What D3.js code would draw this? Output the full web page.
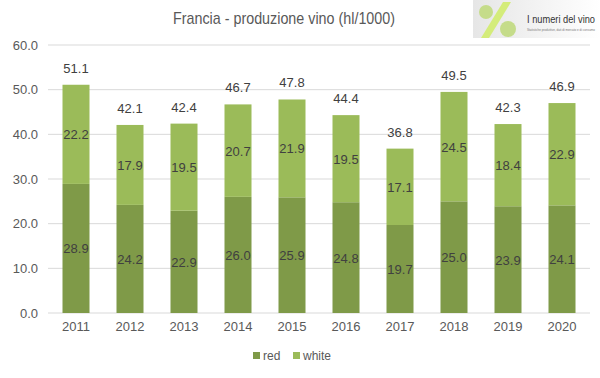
<!DOCTYPE html>
<html>
<head>
<meta charset="utf-8">
<script src="https://cdn.jsdelivr.net/npm/d3@7"></script>
<style>
body{margin:0;background:#fff;}
svg{display:block;font-family:"Liberation Sans",Arial,sans-serif;}
</style>
</head>
<body>
<div id="chart"></div>
<script>
'use strict'
var years = ["2011","2012","2013","2014","2015","2016","2017","2018","2019","2020"];
var red = [28.9,24.2,22.9,26.0,25.9,24.8,19.7,25.0,23.9,24.1];
var white = [22.2,17.9,19.5,20.7,21.9,19.5,17.1,24.5,18.4,22.9];
var totals = [51.1,42.1,42.4,46.7,47.8,44.4,36.8,49.5,42.3,46.9];
var yTicks = [0,10,20,30,40,50,60];

var W = 600, H = 378;
var colors = {red:"#7f9a48", white:"#9bbb59"};
var svg = d3.select("#chart").append("svg").attr("width", W).attr("height", H);

var x = d3.scaleBand().domain(years).range([49, 589]).paddingInner(0.5).paddingOuter(0.25);
var y = d3.scaleLinear().domain([0, 60]).range([313, 45]);

// gridlines
svg.append("g").selectAll("line").data(yTicks).enter().append("line")
	.attr("x1", 48).attr("x2", 590)
	.attr("y1", function(d){return y(d);}).attr("y2", function(d){return y(d);})
	.style("stroke", "#d9d9d9").style("stroke-width", 1);

var yAxis = svg.append("g").attr("transform", "translate(48,0)")
	.call(d3.axisLeft(y).tickValues(yTicks).tickSize(0).tickPadding(10).tickFormat(d3.format(".1f")));
yAxis.select(".domain").remove();
yAxis.selectAll("text").style("font-size", "13px").style("fill", "#595959");

var xAxis = svg.append("g").attr("transform", "translate(0,313)")
	.call(d3.axisBottom(x).tickSize(0).tickPadding(9));
xAxis.select(".domain").remove();
xAxis.selectAll("text").style("font-size", "13px").style("fill", "#595959");

// stacked bars
var stack = years.map(function(yr, i){ return {year: yr, red: red[i], white: white[i], total: totals[i]}; });
var g = svg.append("g");
g.selectAll("rect.red").data(stack).enter().append("rect").attr("class", "red")
	.attr("x", function(d){return x(d.year);}).attr("width", x.bandwidth())
	.attr("y", function(d){return y(d.red);})
	.attr("height", function(d){return y(0) - y(d.red);})
	.style("fill", colors.red);
g.selectAll("rect.white").data(stack).enter().append("rect").attr("class", "white")
	.attr("x", function(d){return x(d.year);}).attr("width", x.bandwidth())
	.attr("y", function(d){return y(d.red + d.white);})
	.attr("height", function(d){return y(d.red) - y(d.red + d.white);})
	.style("fill", colors.white);

var labelStyle = function(sel){
	sel.attr("text-anchor", "middle").style("font-size", "13px").style("fill", "#404040");
};
g.selectAll("text.rl").data(stack).enter().append("text").attr("class", "rl")
	.attr("x", function(d){return x(d.year) + x.bandwidth()/2;})
	.attr("y", function(d){return y(d.red/2) + 5;})
	.text(function(d){return d3.format(".1f")(d.red);}).call(labelStyle);
g.selectAll("text.wl").data(stack).enter().append("text").attr("class", "wl")
	.attr("x", function(d){return x(d.year) + x.bandwidth()/2;})
	.attr("y", function(d){return y(d.red + d.white/2) + 5;})
	.text(function(d){return d3.format(".1f")(d.white);}).call(labelStyle);
g.selectAll("text.tl").data(stack).enter().append("text").attr("class", "tl")
	.attr("x", function(d){return x(d.year) + x.bandwidth()/2;})
	.attr("y", function(d){return y(d.red + d.white) - 12;})
	.text(function(d){return d3.format(".1f")(d.total);}).call(labelStyle);

// title (narrow look)
svg.append("text").attr("x", 173).attr("y", 24)
	.attr("textLength", 222).attr("lengthAdjust", "spacingAndGlyphs")
	.style("font-size", "17px").style("fill", "#595959")
	.text("Francia - produzione vino (hl/1000)");

// legend
var legend = svg.append("g").attr("transform", "translate(253,352)");
[["red", colors.red, 0], ["white", colors.white, 40]].forEach(function(it){
	legend.append("rect").attr("x", it[2]).attr("y", 0).attr("width", 7).attr("height", 7).style("fill", it[1]);
	legend.append("text").attr("x", it[2] + 10).attr("y", 8).text(it[0])
		.style("font-size", "12px").style("fill", "#595959");
});

// logo
var logo = svg.append("g").attr("transform", "translate(473,0)");
var grad = svg.append("defs").append("linearGradient").attr("id", "lg").attr("x1", 0).attr("x2", 1);
grad.append("stop").attr("offset", 0).attr("stop-color", "#e6e6e6");
grad.append("stop").attr("offset", 1).attr("stop-color", "#ffffff");
logo.append("rect").attr("x", 0).attr("y", 0).attr("width", 127).attr("height", 38).style("fill", "url(#lg)");
logo.append("path").attr("d", "M30,2 L38,2 L16,38 L8,38 Z").style("fill", "#d4ec7a");
logo.append("circle").attr("cx", 13).attr("cy", 12).attr("r", 7).style("fill", "#c5dc8a");
logo.append("circle").attr("cx", 35).attr("cy", 29).attr("r", 8).style("fill", "#c5dc8a");
logo.append("text").attr("x", 54).attr("y", 23)
	.attr("textLength", 68).attr("lengthAdjust", "spacingAndGlyphs")
	.style("font-size", "10px").style("fill", "#333").text("I numeri del vino");
logo.append("text").attr("x", 54).attr("y", 31)
	.attr("textLength", 68).attr("lengthAdjust", "spacingAndGlyphs")
	.style("font-size", "2.6px").style("fill", "#777")
	.text("Statistiche produttive, dati di mercato e di consumo");
</script>
</body>
</html>
